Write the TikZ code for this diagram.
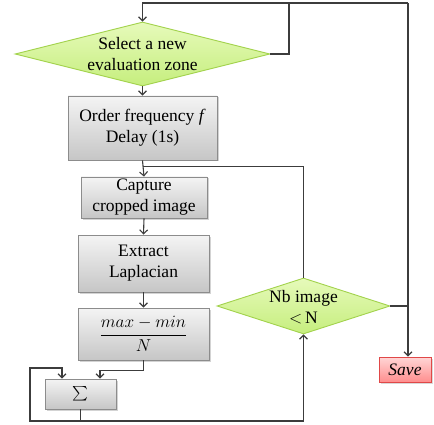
\documentclass[tikz,border=0pt]{standalone}
\usepackage{graphicx}
\usepackage{fontspec}
\setmainfont{Liberation Serif}
\usetikzlibrary{shapes.geometric,shadows,arrows.meta}
\definecolor{linegray}{HTML}{3C3C3C}
\definecolor{boxedge}{HTML}{8C8C8C}
\definecolor{boxtop}{HTML}{F4F4F4}
\definecolor{boxbot}{HTML}{C6C6C6}
\definecolor{greentop}{HTML}{E6FABA}
\definecolor{greenbot}{HTML}{C6EE7E}
\definecolor{greenedge}{HTML}{A2D24C}
\definecolor{redtop}{HTML}{FFD6D6}
\definecolor{redbot}{HTML}{FF8E8E}
\definecolor{rededge}{HTML}{E04848}
\begin{document}
\begin{tikzpicture}[x=1pt,y=-1pt,
  every node/.style={font=\fontsize{17.5}{21}\selectfont, inner sep=0pt},
  procbox/.style={draw=boxedge, line width=0.9pt, top color=boxtop, bottom color=boxbot,
    drop shadow={shadow xshift=1.5pt, shadow yshift=-1.5pt, opacity=0.35},
    align=center},
  decision/.style={diamond, draw=greenedge, line width=0.9pt, top color=greentop,
    bottom color=greenbot, inner sep=0pt},
  savebox/.style={draw=rededge, line width=0.9pt, top color=redtop, bottom color=redbot,
    drop shadow={shadow xshift=1.5pt, shadow yshift=-1.5pt, opacity=0.3}},
  conn/.style={draw=linegray, line width=1.1pt},
  arr/.style={conn, -{Straight Barb[length=4pt,width=8pt]}}]
\useasboundingbox (0,0) rectangle (434,425);

% decision diamonds (text set on top of the shape)
\node[decision, minimum width=255pt, minimum height=64pt] (sel) at (142.5,54) {};
\node[align=center] (seltext) at (142.5,54) {Select a new\\evaluation zone};
\node[decision, minimum width=173pt, minimum height=56pt] (nb) at (303.5,306) {};
\node[align=center] (nbtext) at (303.5,307) {Nb image\\$<$\,N};

% processing steps
\node[procbox, minimum width=149pt, minimum height=64pt] (order) at (142.5,128)
  {Order frequency \textit{f}\\Delay (1s)};
\node[procbox, minimum width=126pt, minimum height=41pt] (capture) at (144,197.5)
  {Capture\\cropped image};
\node[procbox, minimum width=131pt, minimum height=57pt] (lap) at (143.5,263.5)
  {Extract\\Laplacian};
\node[procbox, minimum width=131pt, minimum height=52pt] (frac) at (143.5,334)
  {$\displaystyle\frac{max-min}{N}$};
\node[procbox, minimum width=71pt, minimum height=30pt] (sum) at (80.5,394)
  {\scalebox{1.5}[1.45]{$\sum$}};
\node[savebox, minimum width=52pt, minimum height=25pt] (save) at (405,369.5)
  {\textit{Save}};

% routing points
\coordinate (topright) at (408,3);
\coordinate (topleft) at (142.5,3);
\coordinate (branch) at (289,3);
\coordinate (sumbase) at (80.5,421);

% outer loop and exit
\draw[conn] (nb.east) -- (nb.east -| topright);
\draw[arr] (topright) -- (topright |- save.north);
\draw[arr] (topright) -- (topleft) -- (sel.north);
\draw[conn] (sel.east) -| (branch);

% main chain
\draw[arr] (sel.south) -- (order.north);
\draw[arr] (order.south) -- (capture.north);
\draw[conn] (order.south) ++(0,6) -| (nb.north);
\draw[arr] (capture.south) -- (lap.north);
\draw[arr] (lap.south) -- (frac.north);
\draw[arr] (frac.south) -- ++(0,10) -| ([xshift=19.5pt]sum.north);

% accumulation loop and return to the test
\draw[arr] (sum.south) -- (sumbase) -| (30,368) -| ([xshift=-18.5pt]sum.north);
\draw[arr] (sumbase) -| (nb.south);
\end{tikzpicture}
\end{document}
